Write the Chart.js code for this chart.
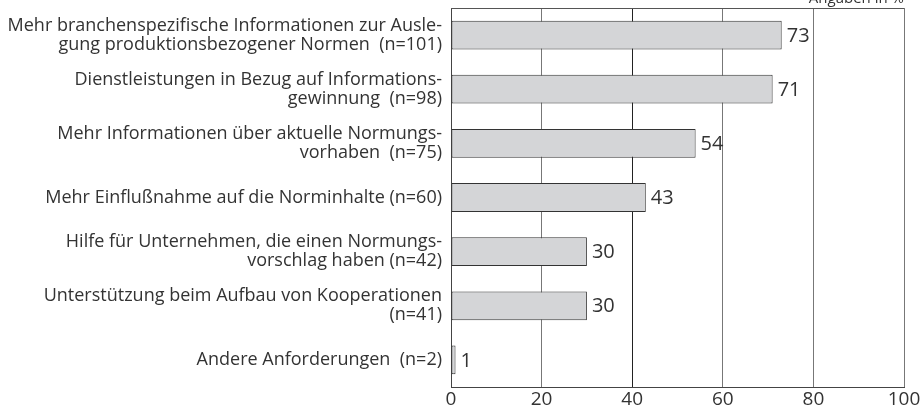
<!DOCTYPE html>
<html>
<head>
<meta charset="utf-8">
<script src="https://cdn.jsdelivr.net/npm/chart.js@4/dist/chart.umd.min.js"></script>
<style>
  html, body { margin: 0; padding: 0; background: #fff; }
  #wrap { width: 924px; height: 411px; }
</style>
</head>
<body>
<div id="wrap"><canvas id="c" width="924" height="411"></canvas></div>
<script>
const categories = [
  ["Mehr branchenspezifische Informationen zur Ausle-", "gung produktionsbezogener Normen  (n=101)"],
  ["Dienstleistungen in Bezug auf Informations-", "gewinnung  (n=98)"],
  ["Mehr Informationen über aktuelle Normungs-", "vorhaben  (n=75)"],
  ["Mehr Einflußnahme auf die Norminhalte (n=60)"],
  ["Hilfe für Unternehmen, die einen Normungs-", "vorschlag haben (n=42)"],
  ["Unterstützung beim Aufbau von Kooperationen", "(n=41)"],
  ["Andere Anforderungen  (n=2)"]
];
const values = [73, 71, 54, 43, 30, 30, 1];
const xTicks = [0, 20, 40, 60, 80, 100];
const unitNote = "Angaben in %";

const FONT = "'Open Sans', sans-serif";
const TEXT = "#333";

const frameAndLabels = {
  id: "frameAndLabels",
  afterDatasetsDraw(chart) {
    const ctx = chart.ctx;
    const area = chart.chartArea;
    ctx.save();
    // top frame line
    ctx.strokeStyle = "#555";
    ctx.lineWidth = 1;
    ctx.beginPath();
    ctx.moveTo(area.left, area.top + 0.5);
    ctx.lineTo(area.right, area.top + 0.5);
    ctx.stroke();

    // value labels
    ctx.fillStyle = TEXT;
    ctx.font = "20px " + FONT;
    ctx.textAlign = "left";
    ctx.textBaseline = "middle";
    const meta = chart.getDatasetMeta(0);
    meta.data.forEach((bar, i) => {
      ctx.fillText(String(values[i]), bar.x + 5, bar.y + 1);
    });

    // unit note, cut off at the top
    ctx.font = "15px " + FONT;
    ctx.textAlign = "right";
    ctx.textBaseline = "alphabetic";
    ctx.fillText(unitNote, area.right, 3);
    ctx.restore();
  }
};

new Chart(document.getElementById("c"), {
  type: "bar",
  data: {
    labels: categories,
    datasets: [{
      data: values,
      backgroundColor: "#d4d5d7",
      borderColor: "#333",
      borderWidth: 1,
      borderSkipped: false,
      categoryPercentage: 0.56,
      barPercentage: 0.95
    }]
  },
  plugins: [frameAndLabels],
  options: {
    indexAxis: "y",
    responsive: false,
    animation: false,
    layout: { padding: { top: 8, right: 20, left: 0, bottom: 0 } },
    plugins: {
      legend: { display: false },
      tooltip: { enabled: false }
    },
    scales: {
      x: {
        min: 0,
        max: 100,
        afterBuildTicks: (scale) => {
          scale.ticks = xTicks.map((v) => ({ value: v }));
        },
        afterFit: (scale) => { scale.height = 24; },
        grid: {
          color: (c) => (c.tick && c.tick.value === 40 ? "#222" : "#777"),
          drawTicks: false
        },
        border: { color: "#444" },
        ticks: {
          color: TEXT,
          font: { family: FONT, size: 19 },
          padding: 1,
          maxRotation: 0
        }
      },
      y: {
        afterFit: (scale) => {
          scale.width = 451;
          scale.paddingTop = 0;
          scale.paddingBottom = 0;
        },
        grid: { display: false, drawTicks: false },
        border: { color: "#444" },
        ticks: {
          color: TEXT,
          font: { family: FONT, size: 18, lineHeight: 1.06 },
          padding: 9,
          autoSkip: false
        }
      }
    }
  }
});
</script>
</body>
</html>
